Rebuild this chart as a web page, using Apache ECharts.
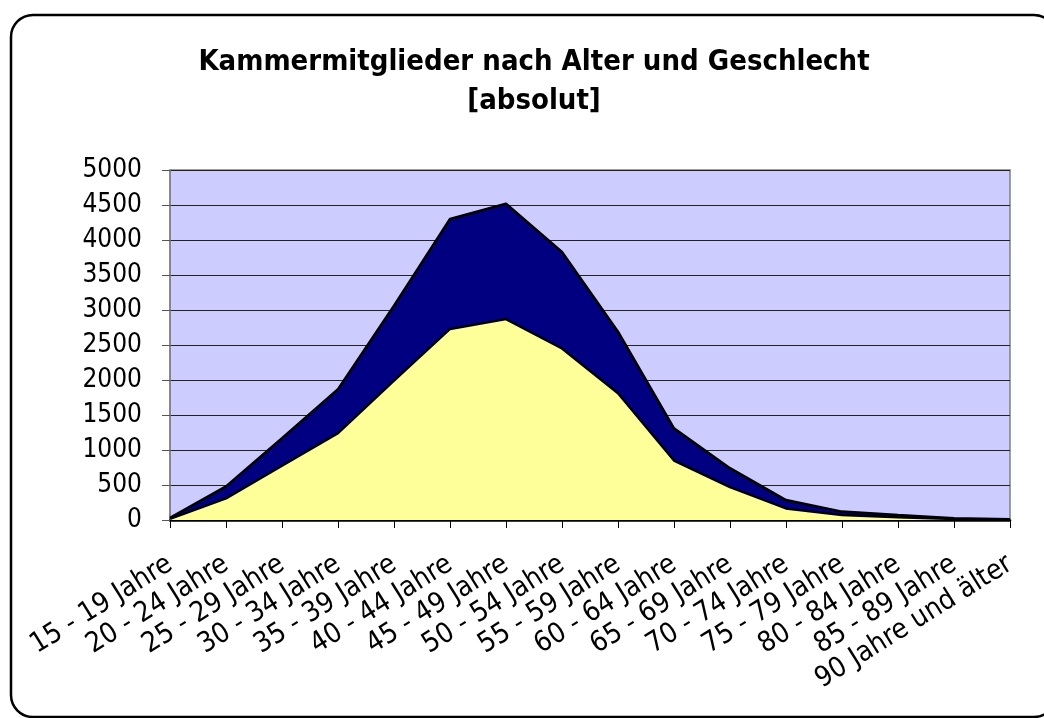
<!DOCTYPE html>
<html>
<head>
<meta charset="utf-8">
<script src="https://cdn.jsdelivr.net/npm/echarts@6/dist/echarts.min.js"></script>
<style>
html,body{margin:0;padding:0;background:#fff;}
#chart{width:1044px;height:718px;}
</style>
</head>
<body>
<div id="chart"></div>
<script>
const categories = ["15 - 19 Jahre","20 - 24 Jahre","25 - 29 Jahre","30 - 34 Jahre","35 - 39 Jahre","40 - 44 Jahre","45 - 49 Jahre","50 - 54 Jahre","55 - 59 Jahre","60 - 64 Jahre","65 - 69 Jahre","70 - 74 Jahre","75 - 79 Jahre","80 - 84 Jahre","85 - 89 Jahre","90 Jahre und älter"];
const seriesLower = [15, 310, 775, 1240, 1990, 2730, 2870, 2450, 1810, 850, 470, 165, 70, 38, 15, 5];
const seriesUpper = [15, 170, 395, 630, 1070, 1570, 1650, 1380, 880, 460, 270, 120, 50, 32, 10, 5];
const yTicks = [0, 500, 1000, 1500, 2000, 2500, 3000, 3500, 4000, 4500, 5000];
const titleLines = ['Kammermitglieder nach Alter und Geschlecht', '[absolut]'];

const FONT = '"DejaVu Sans Condensed", "DejaVu Sans", sans-serif';
const chart = echarts.init(document.getElementById('chart'), null, {renderer: 'canvas'});
chart.setOption({
  animation: false,
  backgroundColor: '#ffffff',
  graphic: [{
    type: 'rect',
    shape: {x: 11, y: 15, width: 1045, height: 702, r: 22},
    style: {fill: 'none', stroke: '#000', lineWidth: 2.5},
    silent: true
  }, {
    type: 'text',
    x: 534, y: 62,
    style: {text: titleLines[0], align: 'center', verticalAlign: 'middle', fontFamily: FONT, fontSize: 29, fontWeight: 'bold', fill: '#000'},
    silent: true
  }, {
    type: 'text',
    x: 534, y: 101,
    style: {text: titleLines[1], align: 'center', verticalAlign: 'middle', fontFamily: FONT, fontSize: 29, fontWeight: 'bold', fill: '#000'},
    silent: true
  }],
  grid: {
    left: 170, right: 34, top: 170, bottom: 198,
    show: true, backgroundColor: '#CCCCFF', borderColor: '#808080', borderWidth: 1.5
  },
  xAxis: {
    type: 'category',
    data: categories,
    boundaryGap: false,
    axisLine: {lineStyle: {color: '#000', width: 2.5}},
    axisTick: {show: true, length: 8, lineStyle: {color: '#000', width: 1}},
    axisLabel: {rotate: 32, margin: 42, interval: 0, fontFamily: FONT, fontSize: 28, color: '#000'},
    splitLine: {show: false}
  },
  yAxis: {
    type: 'value',
    min: yTicks[0],
    max: yTicks[yTicks.length - 1],
    interval: yTicks[1] - yTicks[0],
    axisLine: {show: true, lineStyle: {color: '#808080', width: 1.5}},
    axisTick: {show: true, length: 8, lineStyle: {color: '#555', width: 1}},
    axisLabel: {margin: 28, fontFamily: FONT, fontSize: 26, color: '#000', formatter: function (v) { return String(v); }},
    splitLine: {show: true, lineStyle: {color: '#222', width: 1}}
  },
  series: [{
    name: 'Männer',
    type: 'line',
    stack: 'total',
    data: seriesLower,
    symbol: 'none',
    lineStyle: {color: '#000', width: 2.5},
    areaStyle: {color: '#FFFF99', opacity: 1}
  }, {
    name: 'Frauen',
    type: 'line',
    stack: 'total',
    data: seriesUpper,
    symbol: 'none',
    lineStyle: {color: '#000', width: 2.5},
    areaStyle: {color: '#000080', opacity: 1}
  }]
});
</script>
</body>
</html>
